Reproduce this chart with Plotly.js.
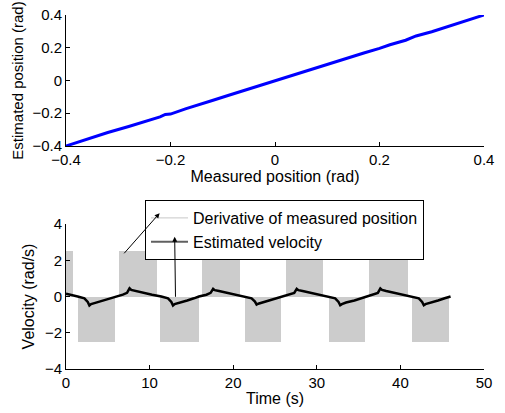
<!DOCTYPE html>
<html><head><meta charset="utf-8">
<script src="https://cdn.plot.ly/plotly-3.0.1.min.js"></script>
<style>body{margin:0;background:#fff}</style>
</head><body><div id="chart" style="width:505px;height:413px"></div>
<script>
// Top panel: measured vs estimated position (rad)
const measuredPos  = [-0.40,-0.36,-0.32,-0.28,-0.25,-0.22,-0.21,-0.20,-0.17,-0.14,-0.12,-0.09,-0.06,-0.04,-0.02,0.00,0.03,0.06,0.09,0.12,0.14,0.17,0.20,0.22,0.25,0.27,0.30,0.33,0.36,0.40];
const estimatedPos = [-0.40,-0.357,-0.318,-0.281,-0.252,-0.222,-0.207,-0.205,-0.172,-0.140,-0.122,-0.092,-0.062,-0.038,-0.022,0.000,0.030,0.058,0.088,0.118,0.142,0.168,0.196,0.218,0.246,0.272,0.298,0.328,0.360,0.400];

// Bottom panel: estimated velocity (rad/s) vs time (s)
const time = [0,0.6,1.4,2.2,2.6,2.8,3.0,3.5,4.5,5.3,5.9,6.8,7.3,7.6,7.8,8.3,9.3,10.3,
  11.4,12.2,12.6,12.8,13.0,13.5,14.5,15.3,15.9,16.8,17.3,17.6,17.8,18.3,19.3,20.3,
  21.4,22.2,22.6,22.8,23.0,23.5,24.5,25.3,25.9,26.8,27.3,27.6,27.8,28.3,29.3,30.3,
  31.4,32.2,32.6,32.8,33.0,33.5,34.5,35.3,35.9,36.8,37.3,37.6,37.8,38.3,39.3,40.3,
  41.4,42.2,42.6,42.8,43.0,43.5,44.5,45.3,46.0];
const estVelocity = [0.15,0.10,0.00,-0.10,-0.30,-0.50,-0.42,-0.35,-0.22,-0.10,0.00,0.10,0.20,0.45,0.36,0.30,0.20,0.10,
  0.00,-0.10,-0.30,-0.50,-0.42,-0.34,-0.22,-0.10,0.00,0.10,0.20,0.42,0.35,0.30,0.20,0.10,
  0.00,-0.10,-0.28,-0.45,-0.40,-0.33,-0.22,-0.10,0.00,0.10,0.20,0.42,0.35,0.30,0.20,0.10,
  0.00,-0.10,-0.30,-0.48,-0.42,-0.33,-0.22,-0.10,0.00,0.10,0.20,0.44,0.36,0.30,0.20,0.10,
  0.00,-0.10,-0.30,-0.48,-0.42,-0.34,-0.22,-0.10,0.00];

// Derivative of measured position: square-wave blocks (start, end, level)
const blockStart = [0.0,1.4,6.3,11.3,16.3,21.4,26.3,31.4,36.3,41.4];
const blockEnd   = [0.8,5.85,10.9,15.9,20.8,25.7,30.8,35.8,40.9,45.8];
const blockLevel = [2.5,-2.5,2.5,-2.5,2.5,-2.5,2.5,-2.5,2.5,-2.5];

const legendNames = ['Derivative of measured position','Estimated velocity'];

const FONT = 'Liberation Sans, Arial, Helvetica, sans-serif';

const traces = [
  {x: measuredPos, y: estimatedPos, type:'scatter', mode:'lines',
   line:{color:'#0000ff', width:3}, xaxis:'x', yaxis:'y', showlegend:false},
  {x: blockStart.map((s,i)=>(s+blockEnd[i])/2), y: blockLevel,
   width: blockStart.map((s,i)=>blockEnd[i]-s), base: 0,
   type:'bar', marker:{color:'#cccccc', line:{width:0}}, xaxis:'x2', yaxis:'y2', showlegend:false},
  {x: time, y: estVelocity, type:'scatter', mode:'lines',
   line:{color:'#000000', width:2.5}, xaxis:'x2', yaxis:'y2', showlegend:false},
  {x:[null], y:[null], type:'scatter', mode:'lines', name: legendNames[0],
   line:{color:'#c8c8c8', width:1}, xaxis:'x2', yaxis:'y2'},
  {x:[null], y:[null], type:'scatter', mode:'lines', name: legendNames[1],
   line:{color:'#606060', width:2}, xaxis:'x2', yaxis:'y2'}
];

const axisCommon = {showgrid:false, zeroline:false, showline:true, linecolor:'#000', linewidth:1,
  ticks:'inside', ticklen:4, tickcolor:'#000', tickfont:{family:FONT, size:15, color:'#000'},
  mirror:false};

const layout = {
  width:505, height:413,
  margin:{l:66, r:21, t:15, b:44},
  paper_bgcolor:'#fff', plot_bgcolor:'#fff',
  font:{family:FONT, size:16, color:'#000'},
  bargap:0,
  xaxis: Object.assign({}, axisCommon, {domain:[0,1], range:[-0.4,0.4], tickvals:[-0.4,-0.2,0,0.2,0.4],
    ticktext:['−0.4','−0.2','0','0.2','0.4'], anchor:'y',
    title:{text:'Measured position (rad)', font:{family:FONT,size:16}, standoff:2}}),
  yaxis: Object.assign({}, axisCommon, {domain:[0.630,1], range:[-0.4,0.4], tickvals:[-0.4,-0.2,0,0.2,0.4],
    ticktext:['−0.4','−0.2','0','0.2','0.4'], anchor:'x',
    title:{text:'Estimated position (rad)', font:{family:FONT,size:15}, standoff:5}}),
  xaxis2: Object.assign({}, axisCommon, {domain:[0,1], range:[0,50], tickvals:[0,10,20,30,40,50], anchor:'y2',
    title:{text:'Time (s)', font:{family:FONT,size:16}, standoff:2}}),
  yaxis2: Object.assign({}, axisCommon, {domain:[0,0.4096], range:[-4,4], tickvals:[-4,-2,0,2,4],
    ticktext:['−4','−2','0','2','4'], anchor:'x2',
    title:{text:'Velocity (rad/s)', font:{family:FONT,size:16}, standoff:6}}),
  showlegend:true,
  legend:{x:0.189, y:0.4774, xanchor:'left', yanchor:'top', bgcolor:'#fff', bordercolor:'#000', borderwidth:1,
    font:{family:FONT, size:16, color:'#000'}, tracegroupgap:0, itemwidth:37},
  annotations:[
    {xref:'x2', yref:'y2', axref:'x2', ayref:'y2', x:11.2, y:4.6, ax:6.8, ay:2.3, text:'', showarrow:true,
     arrowhead:2, arrowsize:1, arrowwidth:1, arrowcolor:'#000'},
    {xref:'x2', yref:'y2', axref:'x2', ayref:'y2', x:13.0, y:3.3, ax:13.1, ay:-0.1, text:'', showarrow:true,
     arrowhead:2, arrowsize:1, arrowwidth:1, arrowcolor:'#000'}
  ]
};

Plotly.newPlot('chart', traces, layout, {displayModeBar:false, staticPlot:true});
</script></body></html>
